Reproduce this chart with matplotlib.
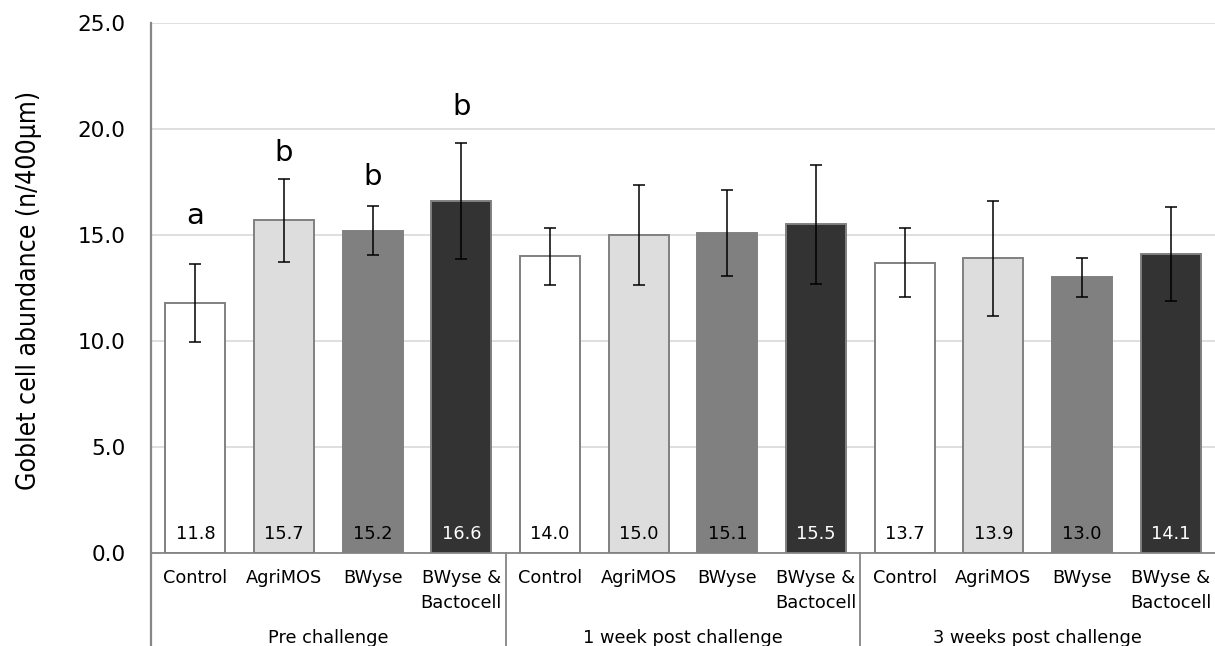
import matplotlib
matplotlib.use("Agg")
import matplotlib.pyplot as plt
from matplotlib.lines import Line2D

groups = ["Pre challenge", "1 week post challenge", "3 weeks post challenge"]
treatments = ["Control", "AgriMOS", "BWyse", "BWyse &\nBactocell"]
values = [11.8, 15.7, 15.2, 16.6, 14.0, 15.0, 15.1, 15.5, 13.7, 13.9, 13.0, 14.1]
errors = [1.85, 1.95, 1.15, 2.73, 1.34, 2.36, 2.02, 2.82, 1.62, 2.71, 0.91, 2.2]
letters = ["a", "b", "b", "b"]
letter_y = [15.5, 18.5, 17.35, 20.65]
yticks = [0, 5, 10, 15, 20, 25]

fills = ["#ffffff", "#dddddd", "#808080", "#333333"]
text_cols = ["black", "black", "black", "white"]

fig = plt.figure(figsize=(12.15, 6.46), dpi=100)
ax = fig.add_axes([151/1215, (646-553)/646, (1215-151)/1215, (553-23)/646])

n = len(values)
xs = list(range(n))
cols = [fills[i % 4] for i in xs]
ax.bar(xs, values, width=0.68, color=cols, edgecolor="#808080", linewidth=1.4, zorder=3)
ax.errorbar(xs, values, yerr=errors, fmt="none", ecolor="black", elinewidth=1.1,
            capsize=4.5, capthick=1.1, zorder=4)

for i, v in enumerate(values):
    ax.text(i, 0.45, f"{v:.1f}", ha="center", va="bottom", fontsize=12.8,
            color=text_cols[i % 4], zorder=5)
for i, (lt, ly) in enumerate(zip(letters, letter_y)):
    ax.text(i, ly, lt, ha="center", va="baseline", fontsize=21, zorder=5)

ax.set_xlim(-0.5, n - 0.5)
ax.set_ylim(0, 25)
ax.set_yticks(yticks)
ax.set_yticklabels([f"{t:.1f}" for t in yticks], fontsize=15.5)
ax.tick_params(axis="y", length=0, pad=18.5)
ax.set_xticks([])
ax.yaxis.grid(True, color="#d9d9d9", linewidth=1.2, zorder=0)
ax.set_axisbelow(True)
for s in ["top", "right", "left"]:
    ax.spines[s].set_visible(False)
ax.spines["bottom"].set_color("#868686")
ax.spines["bottom"].set_linewidth(1.3)

ax.set_ylabel("Goblet cell abundance (n/400µm)", fontsize=19, fontstretch="condensed")
ax.yaxis.set_label_coords(-0.102, 0.495)

# category labels
trans = ax.get_xaxis_transform()
for i in xs:
    ax.text(i, -0.031, treatments[i % 4], transform=trans, ha="center", va="top",
            fontsize=12.8, linespacing=1.45, clip_on=False)
for g, name in enumerate(groups):
    ax.text(g * 4 + 1.5, -0.143, name, transform=trans, ha="center", va="top",
            fontsize=12.8, clip_on=False)

# axis and separators extending below
ax.add_line(Line2D([-0.5, -0.5], [1.0, -0.2], transform=trans, color="#868686",
                   linewidth=1.6, clip_on=False, zorder=6))
for g in range(1, len(groups)):
    ax.add_line(Line2D([g * 4 - 0.5, g * 4 - 0.5], [0, -0.2], transform=trans,
                       color="#868686", linewidth=1.3, clip_on=False))

fig.savefig("out.png", dpi=100)
